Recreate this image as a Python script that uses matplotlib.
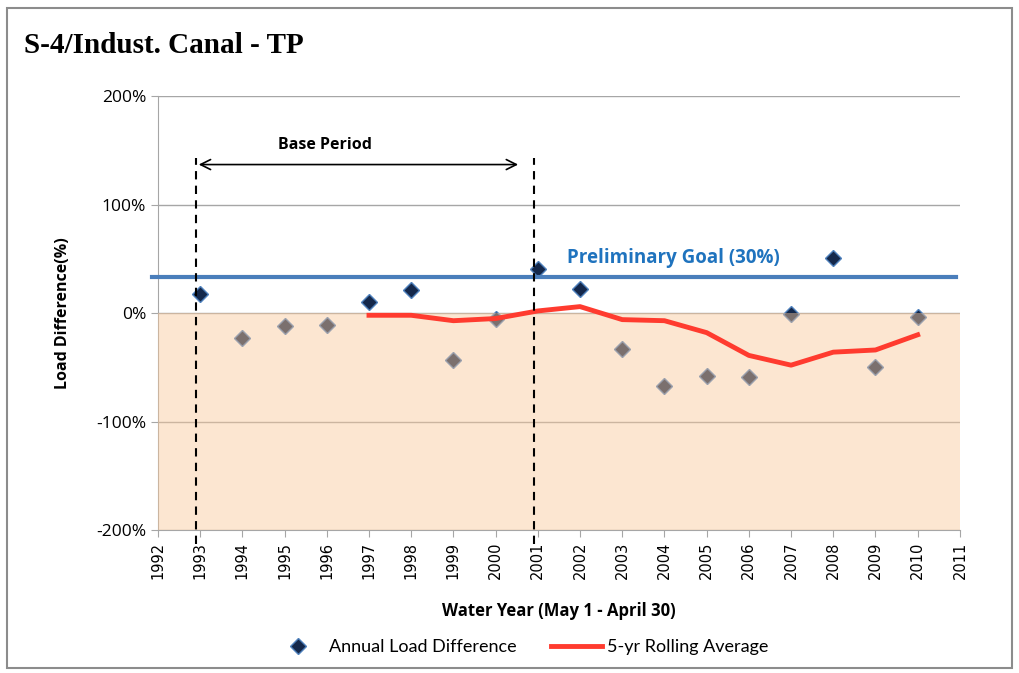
import numpy as np
import matplotlib.pyplot as plt
from matplotlib.patches import Rectangle

# datos
years = [1993, 1994, 1995, 1996, 1997, 1998, 1999, 2000, 2001,
         2002, 2003, 2004, 2005, 2006, 2007, 2008, 2009, 2010]
annual_diff = [18, -23, -12, -11, 10, 21, -43, -5, 41,
               22, -33, -67, -58, -59, -1, 51, -50, -4]
roll_years = [1997, 1998, 1999, 2000, 2001, 2002, 2003,
              2004, 2005, 2006, 2007, 2008, 2009, 2010]
roll_avg = [-2, -2, -7, -5, 2, 6, -6, -7, -18, -39, -48, -36, -34, -20]
goal = 33
base_start, base_end = 1993, 2001
yticks = [-200, -100, 0, 100, 200]

fig = plt.figure(figsize=(10.19, 6.73), dpi=100)
ax = fig.add_axes([0.155, 0.2125, 0.787, 0.6445])

# marco exterior
fig.patches.append(Rectangle((0.007, 0.008), 0.986, 0.98, transform=fig.transFigure,
                             fill=False, ec='#8c8c8c', lw=1.5))

ax.set_xlim(1992, 2011)
ax.set_ylim(-200, 200)
ax.set_yticks(yticks)
ax.set_yticklabels([f'{v}%' for v in yticks], fontsize=12.5, family='Open Sans')
ax.set_xticks(range(1992, 2012))
ax.set_xticklabels([str(y) for y in range(1992, 2012)], rotation=90,
                   fontsize=10.5, family='DejaVu Sans')
ax.grid(axis='y', color='#a6a6a6', lw=1)
ax.set_axisbelow(True)
for s in ['top', 'right']:
    ax.spines[s].set_visible(False)
ax.spines['left'].set_color('#a6a6a6')
ax.spines['bottom'].set_color('#a6a6a6')
ax.tick_params(axis='both', color='#a6a6a6', length=5)

# puntos anuales (debajo del relleno)
ax.plot(years, annual_diff, ls='none', marker='D', ms=8.5, mfc='#14284b',
        mec='#4f81bd', mew=1, zorder=2, label='Annual Load Difference')
# relleno bajo cero
ax.axhspan(-200, 0, color='#f9c89a', alpha=0.45, lw=0, zorder=3)

ax.plot(roll_years, roll_avg, color='#ff3b2f', lw=3.5, zorder=4,
        label='5-yr Rolling Average')

ax.axhline(goal, xmin=-0.008, xmax=0.995, color='#4a7ebb', lw=3, zorder=5, clip_on=False)
ax.text(2001.7, goal + 18, 'Preliminary Goal (30%)', color='#1f73be', fontsize=13.5,
        fontweight='bold', family='Open Sans', va='center')

# periodo base
for x in [base_start, base_end]:
    ax.plot([x - 0.1, x - 0.1], [-213, 143], color='black', ls=(0, (4, 3)), lw=1.5,
            zorder=6, clip_on=False)
ax.annotate('', xy=(base_start - 0.1, 137), xytext=(base_end - 0.4, 137),
            arrowprops=dict(arrowstyle='<->', color='black', lw=1.2, mutation_scale=18))
ax.text(1995.95, 155, 'Base Period', ha='center', va='center',
        fontsize=11.5, fontweight='bold', family='Open Sans')

ax.set_ylabel('Load Difference(%)', fontsize=11.5, fontweight='bold', family='Open Sans',
              labelpad=18)
ax.set_xlabel('Water Year (May 1 - April 30)', fontsize=12, fontweight='bold',
              family='Open Sans', labelpad=16)

fig.text(0.024, 0.933, 'S-4/Indust. Canal - TP', fontsize=21, fontweight='bold',
         family='Liberation Serif', va='center')

leg = fig.legend(loc='center', bbox_to_anchor=(0.511, 0.038), ncol=2, frameon=False,
                 prop={'family': 'Lato', 'size': 13}, columnspacing=1.9,
                 handlelength=2.8, handletextpad=0.3)

plt.savefig('out.png', dpi=100)
